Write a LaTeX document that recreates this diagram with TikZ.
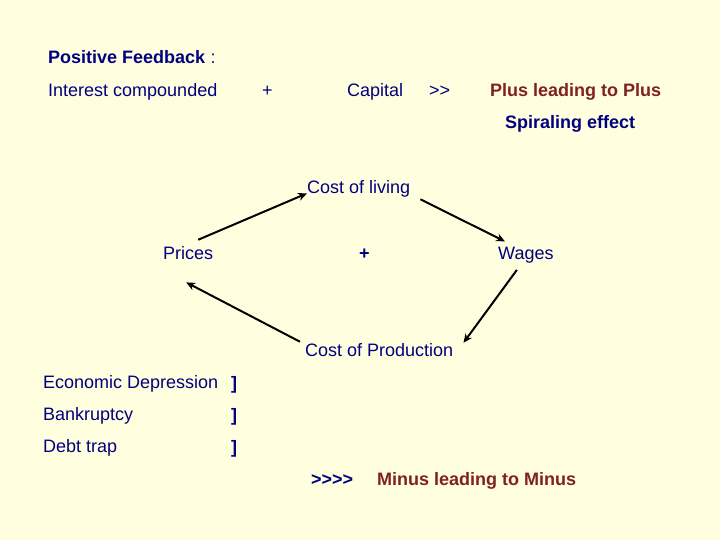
\documentclass[tikz,border=0pt]{standalone}
\usepackage{fontspec}
\setmainfont{Liberation Sans}
\usetikzlibrary{calc,arrows.meta}
\definecolor{bgc}{RGB}{255,255,224}
\definecolor{navyc}{RGB}{0,0,128}
\definecolor{maroonc}{RGB}{128,32,32}
\begin{document}
\begin{tikzpicture}[x=1pt,y=-1pt,
  txt/.style={anchor=base west,inner sep=0pt,text=navyc,font=\fontsize{18}{21}\selectfont},
  btxt/.style={txt,font=\fontsize{18}{21}\selectfont\bfseries},
  rtxt/.style={btxt,text=maroonc},
  arr/.style={draw=black,line width=2pt,-{Stealth[length=9pt,width=8pt]}}]
\fill[bgc] (0,0) rectangle (720,540);
\useasboundingbox (0,0) rectangle (720,540);
\node[btxt] (pf) at (48,64) {Positive Feedback};
\node[txt] (colon) at (pf.base east) {\ :};
\node[txt] (ic) at (48,97) {Interest compounded};
\node[txt] (plus1) at (262,97) {+};
\node[txt] (cap) at (347,97) {Capital};
\node[txt] (gt2) at (429,97) {>\kern0pt>};
\node[rtxt] (plp) at (490,97) {Plus leading to Plus};
\node[btxt] (spi) at (505,129) {Spiraling effect};
\node[txt] (col) at (307,194) {Cost of living};
\node[txt] (pri) at (163,259) {Prices};
\node[btxt] (plus2) at (359,259) {+};
\node[txt] (wag) at (498,259) {Wages};
\node[txt] (cop) at (305,356) {Cost of Production};
\node[txt] (ed) at (43,388) {Economic Depression};
\node[txt] (bk) at (43,420) {Bankruptcy};
\node[txt] (dt) at (43,452) {Debt trap};
\node[btxt] (b1) at (231,389) {]};
\node[btxt] (b2) at (231,421) {]};
\node[btxt] (b3) at (231,453) {]};
\node[btxt] (gt4) at (311,485) {>\kern0pt>\kern0pt>\kern0pt>};
\node[rtxt] (mlm) at (377,485) {Minus leading to Minus};
\draw[arr] ($(pri.north)+(10,-6)$) -- ($(col.west)+(0,4)$);
\draw[arr] ($(col.east)+(10,10)$) -- ($(wag.north west)+(7,-5)$);
\draw[arr] ($(wag.south)+(-9,7)$) -- ($(cop.north east)+(10,0)$);
\draw[arr] ($(cop.north west)+(-5,-1)$) -- ($(pri.south)+(-2,23)$);
\end{tikzpicture}
\end{document}
